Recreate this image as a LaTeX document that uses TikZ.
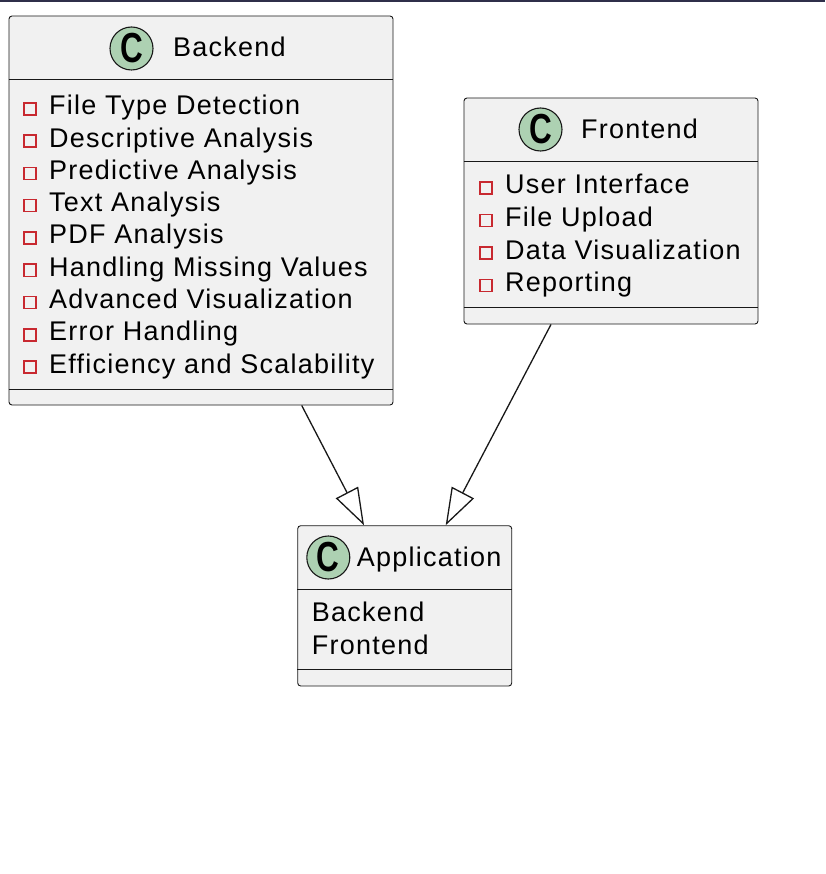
\documentclass[tikz,border=0pt]{standalone}
\usepackage{fontspec}
\setmainfont{Liberation Sans}[LetterSpace=4.6]
\newfontfamily\cfontfam{Liberation Sans}[LetterSpace=0]
\usetikzlibrary{arrows.meta}
\definecolor{boxfill}{HTML}{F1F1F1}
\definecolor{boxline}{HTML}{181818}
\definecolor{cfill}{HTML}{ADD1B2}
\definecolor{iconred}{HTML}{C82930}
\definecolor{topbar}{HTML}{2F2F4A}
\begin{document}
\begin{tikzpicture}[x=1pt,y=-1pt,
  classbox/.style={draw=boxline, fill=boxfill, line width=0.9pt, rounded corners=3pt, inner sep=0pt, rectangle},
  sepline/.style={draw=boxline, line width=0.9pt},
  cmark/.style={circle, draw=boxline, fill=cfill, line width=1.1pt, minimum size=43pt, inner sep=0pt,
     font={\cfontfam\bfseries\fontsize{42}{42}\selectfont}},
  txt/.style={anchor=base west, inner sep=0pt, font={\fontsize{27}{27}\selectfont}},
  icon/.style={rectangle, draw=iconred, line width=1.5pt, minimum size=12pt, inner sep=0pt},
  inh/.style={draw=boxline, line width=1.3pt, -{Triangle[length=37pt,width=25pt,fill=white]}}
]
\useasboundingbox (0,0) rectangle (825,874);
\fill[topbar] (0,0) rectangle (825,1.6);

% Backend
\node[classbox, minimum width=384pt, minimum height=389pt] (backend) at (201,210.5) {};
\node[cmark] (bc) at (131.5,48.5) {\scalebox{0.75}[1]{C}};
\node[txt] (bt) at (173,57) {Backend};
\draw[sepline] (backend.west |- 0,79) -- (backend.east |- 0,79);
\foreach \t [count=\i] in {File Type Detection,Descriptive Analysis,Predictive Analysis,Text Analysis,PDF Analysis,Handling Missing Values,Advanced Visualization,Error Handling,Efficiency and Scalability}{
  \pgfmathsetmacro{\yy}{115+(\i-1)*32.25}
  \node[icon] (bi\i) at (30.2,\yy-6) {};
  \node[txt] (b\i) at (49,\yy) {\t};
}
\draw[sepline] (backend.west |- 0,389) -- (backend.east |- 0,389);

% Frontend
\node[classbox, minimum width=294pt, minimum height=226pt] (frontend) at (611,211) {};
\node[cmark] (fc) at (540.5,129.5) {\scalebox{0.75}[1]{C}};
\node[txt] (ft) at (581,139) {Frontend};
\draw[sepline] (frontend.west |- 0,161) -- (frontend.east |- 0,161);
\foreach \t [count=\i] in {User Interface,File Upload,Data Visualization,Reporting}{
  \pgfmathsetmacro{\yy}{194+(\i-1)*32.5}
  \node[icon] (fi\i) at (486,\yy-6) {};
  \node[txt] (f\i) at (505,\yy) {\t};
}
\draw[sepline] (frontend.west |- 0,307) -- (frontend.east |- 0,307);

% Application
\node[classbox, minimum width=214pt, minimum height=160.3pt] (app) at (404.7,605.85) {};
\node[cmark] (ac) at (328.3,557.5) {\scalebox{0.75}[1]{C}};
\node[txt] (at) at (356.7,566.7) {Application};
\draw[sepline] (app.west |- 0,589) -- (app.east |- 0,589);
\node[txt] (a1) at (311.7,621.7) {Backend};
\node[txt] (a2) at (311.7,654) {Frontend};
\draw[sepline] (app.west |- 0,669.3) -- (app.east |- 0,669.3);

% Inheritance arrows
\draw[inh] ([xshift=100.7pt]backend.south) -- ([xshift=-40.7pt]app.north);
\draw[inh] ([xshift=-60pt]frontend.south) -- ([xshift=41pt]app.north);
\end{tikzpicture}
\end{document}
